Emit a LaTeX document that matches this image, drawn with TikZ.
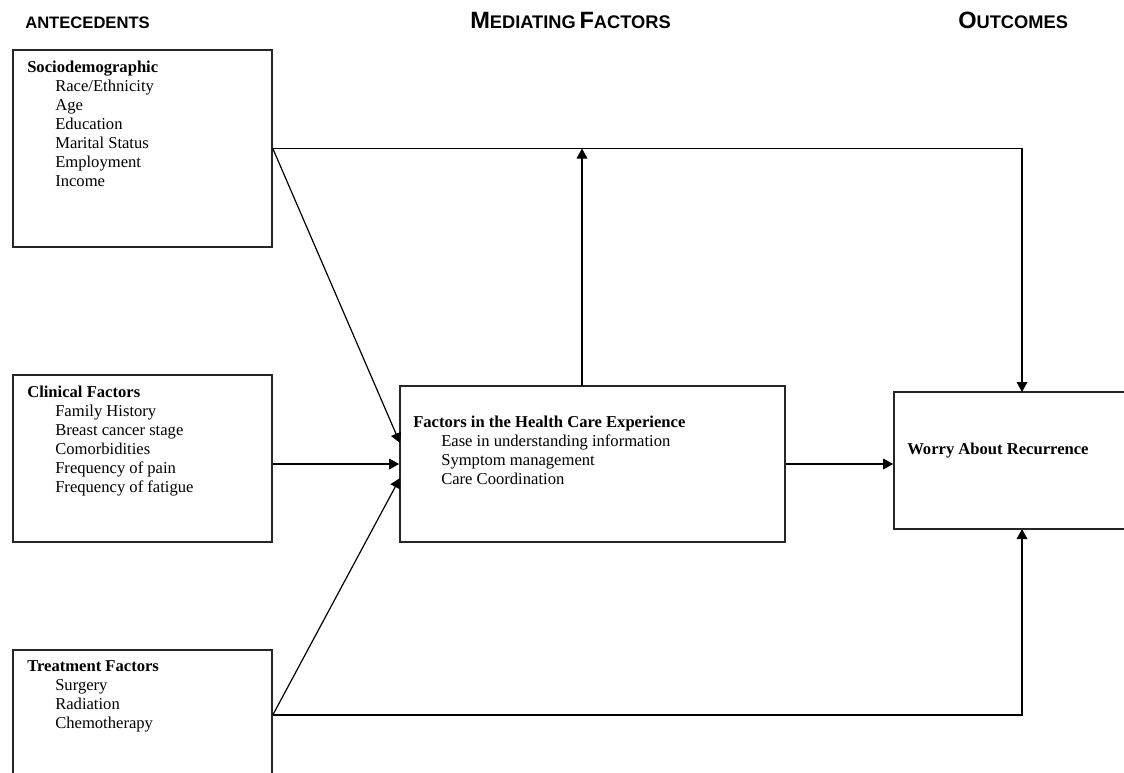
\documentclass[tikz,border=0pt]{standalone}
\usepackage{fontspec}
\setmainfont{Liberation Serif}
\setsansfont{Liberation Sans}
\usetikzlibrary{arrows.meta,fit}
\newcommand{\ind}{\hspace*{21pt}}
\newcommand{\hdcaps}[2]{{\fontsize{17.7}{20}\selectfont #1}{\fontsize{13.7}{16}\selectfont #2}}

\begin{document}
\begin{tikzpicture}[x=0.75pt,y=-0.75pt,font=\fontsize{12.45}{14.25}\selectfont,
  >={Triangle[length=7.5pt,width=8pt]},
  box/.style={draw=black!85,line width=1.2pt,inner sep=0pt},
  txt/.style={anchor=north west,align=left,inner sep=0pt},
  hd/.style={anchor=base west,inner sep=0pt,font=\sffamily\bfseries},
  arr/.style={->,line width=0.9pt}]
\useasboundingbox (0,0) rectangle (1124,772);
% column heads
\node[hd,font=\sffamily\bfseries\fontsize{12.45}{14}\selectfont] (h-ante) at (25,28) {ANTECEDENTS};
\node[hd] (h-med) at (470,28) {\hdcaps{M}{EDIATING} \hdcaps{F}{ACTORS}};
\node[hd] (h-out) at (958,28) {\hdcaps{O}{UTCOMES}};
% antecedents
\node[box,fit={(13,50) (272,247)}] (socio) {};
\node[txt] (socio-t) at (27,60.7) {\textbf{Sociodemographic}\\\ind Race/Ethnicity\\\ind Age\\\ind Education\\\ind Marital Status\\\ind Employment\\\ind Income};
\node[box,fit={(13,375) (272,542)}] (clin) {};
\node[txt] (clin-t) at (27,385.7) {\textbf{Clinical Factors}\\\ind Family History\\\ind Breast cancer stage\\\ind Comorbidities\\\ind Frequency of pain\\\ind Frequency of fatigue};
\node[box,fit={(13,650) (272,780)}] (treat) {};
\node[txt] (treat-t) at (27,660.7) {\textbf{Treatment Factors}\\\ind Surgery\\\ind Radiation\\\ind Chemotherapy};
% mediating factors
\node[box,fit={(400,386) (785,542)}] (med) {};
\node[txt] (med-t) at (413,415.7) {\textbf{Factors in the Health Care Experience}\\\ind Ease in understanding information\\\ind Symptom management\\\ind Care Coordination};
% outcome
\node[box,fit={(894,392) (1126,529)}] (worry) {};
\node[txt] (worry-t) at (907,442.7) {\textbf{Worry About Recurrence}};
% junction points
\coordinate (m-in1) at (400,443);
\coordinate (m-in3) at (400,478);
\coordinate (m-top) at (582,386);
\coordinate (w-top) at (1022,392);
\coordinate (w-bot) at (1022,529);
% arrows
\draw[arr] (socio.east) -| (w-top);
\draw[arr] (socio.east) -- (m-in1);
\draw[arr] (med.west -| clin.east) -- (med.west);
\draw[arr] (treat.east) -- (m-in3);
\draw[arr] (treat.east) -| (w-bot);
\draw[arr] (m-top) -- (m-top |- socio.east);
\draw[arr] (med.east) -- (med.east -| worry.west);
\end{tikzpicture}
\end{document}
